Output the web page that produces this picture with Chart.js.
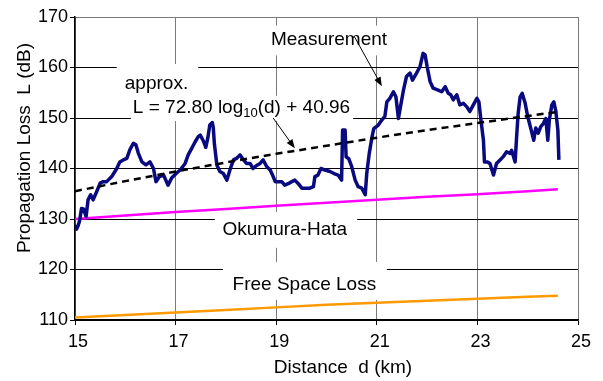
<!DOCTYPE html>
<html>
<head>
<meta charset="utf-8">
<script src="https://cdn.jsdelivr.net/npm/chart.js@4.4.1/dist/chart.umd.min.js"></script>
<style>
  html, body { margin: 0; padding: 0; background: #fff; }
  #wrap { width: 603px; height: 381px; position: relative; }
</style>
</head>
<body>
<div id="wrap"><canvas id="lossChart"></canvas></div>
<script>
// Measured propagation loss along the route (km, dB)
const measDist = [15.00, 15.03, 15.06, 15.09, 15.13, 15.17, 15.22, 15.26, 15.31, 15.36, 15.43, 15.50, 15.56, 15.63,
    15.73, 15.83, 15.89, 15.96, 16.03, 16.09, 16.16, 16.21, 16.26, 16.33, 16.41, 16.49, 16.56, 16.61, 16.68, 16.76,
    16.85, 16.92, 17.01, 17.09, 17.19, 17.25, 17.32, 17.39, 17.45, 17.49, 17.55, 17.60, 17.64, 17.68, 17.73, 17.75,
    17.77, 17.82, 17.88, 17.95, 18.02, 18.08, 18.15, 18.21, 18.28, 18.35, 18.41, 18.48, 18.54, 18.61, 18.68, 18.74,
    18.81, 18.88, 18.94, 18.98, 19.04, 19.11, 19.17, 19.24, 19.31, 19.37, 19.44, 19.51, 19.61, 19.67, 19.74, 19.77,
    19.83, 19.89, 19.97, 20.07, 20.15, 20.23, 20.30, 20.32, 20.37, 20.39, 20.44, 20.50, 20.57, 20.63, 20.70, 20.77,
    20.80, 20.85, 20.90, 20.94, 21.03, 21.10, 21.16, 21.20, 21.26, 21.33, 21.38, 21.43, 21.47, 21.53, 21.59, 21.66,
    21.71, 21.79, 21.86, 21.92, 21.96, 22.00, 22.06, 22.12, 22.22, 22.29, 22.36, 22.42, 22.47, 22.52, 22.59, 22.65,
    22.72, 22.79, 22.85, 22.92, 22.99, 23.03, 23.07, 23.12, 23.14, 23.20, 23.25, 23.32, 23.38, 23.45, 23.51, 23.58,
    23.65, 23.68, 23.75, 23.78, 23.81, 23.85, 23.89, 23.95, 24.00, 24.07, 24.12, 24.16, 24.21, 24.26, 24.31, 24.36,
    24.40, 24.43, 24.48, 24.52, 24.56, 24.60, 24.62];
const measLoss = [128.8, 128.0, 128.6, 129.6, 132.1, 132.0, 130.5, 133.8, 134.8, 133.8, 135.4, 137.1, 137.4, 137.4,
    138.4, 140.0, 141.3, 141.7, 142.0, 143.7, 145.0, 144.7, 143.0, 141.3, 140.7, 141.3, 140.0, 137.4, 138.4, 138.7,
    136.7, 138.1, 139.0, 139.7, 141.0, 142.7, 144.0, 145.3, 146.3, 146.6, 145.5, 144.2, 146.0, 148.6, 149.1, 148.0,
    145.0, 140.7, 139.4, 139.0, 137.7, 139.7, 141.7, 142.0, 142.7, 141.7, 141.0, 141.0, 140.0, 140.6, 141.0, 141.7,
    140.4, 139.7, 138.4, 137.4, 137.4, 137.4, 136.7, 137.0, 137.4, 137.7, 137.0, 136.1, 136.1, 136.1, 136.4, 138.4,
    138.7, 140.0, 139.7, 139.4, 139.0, 138.7, 137.7, 147.6, 147.6, 142.3, 142.0, 140.4, 137.7, 136.4, 136.1, 134.8,
    139.0, 143.0, 146.0, 147.9, 148.6, 149.6, 150.3, 153.2, 153.9, 155.2, 154.2, 149.9, 152.2, 155.5, 158.2, 158.9,
    157.5, 158.9, 160.2, 162.8, 162.5, 160.2, 157.2, 155.9, 155.5, 155.2, 156.2, 154.9, 154.6, 153.6, 154.6, 152.6,
    152.9, 152.2, 151.3, 152.6, 153.9, 153.2, 149.6, 145.6, 141.3, 141.3, 141.0, 138.7, 141.0, 141.7, 142.3, 143.3,
    143.0, 143.6, 141.3, 146.3, 150.9, 154.2, 154.9, 152.9, 150.3, 147.6, 145.6, 148.0, 147.0, 148.3, 148.9, 149.9,
    145.6, 149.6, 152.6, 153.2, 151.3, 147.6, 141.7];

// Model curves, read at whole kilometres
const modelDist = [15, 16, 17, 18, 19, 20, 21, 22, 23, 24, 24.6];
const fitLoss = [135.5, 137.5, 139.4, 141.2, 142.9, 144.5, 146.1, 147.6, 149.0, 150.4, 151.2];
const hataLoss = [130.0, 130.7, 131.4, 132.0, 132.6, 133.2, 133.8, 134.4, 134.9, 135.5, 135.9];
const freeLoss = [110.5, 111.0, 111.5, 112.0, 112.5, 113.0, 113.4, 113.8, 114.2, 114.6, 114.8];

const xTicks = [15, 17, 19, 21, 23, 25];
const yTicks = [110, 120, 130, 140, 150, 160, 170];

const FONT = "'Liberation Sans', Arial, sans-serif";

const toPts = (xs, ys) => xs.map((x, i) => ({x: x, y: ys[i]}));

// Text boxes (white background hides grid lines), in data units
const notes = [
    {text: 'Measurement', x: 20.05, y: 165.5, align: 'center', box: [18.8, 21.35, 168.3, 162.4]},
    {text: 'approx.', x: 15.99, y: 156.8, align: 'left', box: [15.83, 17.45, 160.7, 154.4]},
    {text: 'L = 72.80 log|10|(d) + 40.96', x: 16.15, y: 152.0, align: 'left', box: [16.11, 20.53, 154.4, 149.4]},
    {text: 'Okumura-Hata', x: 19.17, y: 127.8, align: 'center', box: [17.78, 20.61, 131.4, 124.3]},
    {text: 'Free Space Loss', x: 19.56, y: 116.9, align: 'center', box: [17.94, 21.20, 121.5, 114.0]}
];
// Arrows: from -> to, in data units
const arrows = [
    {from: [20.55, 166.2], to: [21.10, 156.3]},
    {from: [18.94, 150.0], to: [19.37, 144.0]}
];

const notesPlugin = {
    id: 'notes',
    beforeDatasetsDraw(chart) {
        const {ctx, scales: {x, y}} = chart;
        ctx.save();
        notes.forEach(n => {
            const x0 = x.getPixelForValue(n.box[0]), x1 = x.getPixelForValue(n.box[1]);
            const y0 = y.getPixelForValue(n.box[2]), y1 = y.getPixelForValue(n.box[3]);
            ctx.fillStyle = '#fff';
            ctx.fillRect(x0, y0, x1 - x0, y1 - y0);
        });
        ctx.fillStyle = '#000';
        ctx.textBaseline = 'middle';
        notes.forEach(n => {
            const px = x.getPixelForValue(n.x), py = y.getPixelForValue(n.y);
            const parts = n.text.split('|');
            ctx.font = '19px ' + FONT;
            if (parts.length === 1) {
                ctx.textAlign = n.align;
                ctx.fillText(n.text, px, py);
                return;
            }
            // text with a subscript part
            ctx.textAlign = 'left';
            let cx = px;
            parts.forEach((p, i) => {
                ctx.font = (i === 1 ? '13px ' : '19px ') + FONT;
                ctx.fillText(p, cx, py + (i === 1 ? 6 : 0));
                cx += ctx.measureText(p).width;
            });
        });
        ctx.restore();
    },
    afterDatasetsDraw(chart) {
        const {ctx, scales: {x, y}} = chart;
        ctx.save();
        ctx.strokeStyle = '#000';
        ctx.fillStyle = '#000';
        ctx.lineWidth = 1;
        arrows.forEach(a => {
            const fx = x.getPixelForValue(a.from[0]), fy = y.getPixelForValue(a.from[1]);
            const tx = x.getPixelForValue(a.to[0]), ty = y.getPixelForValue(a.to[1]);
            const ang = Math.atan2(ty - fy, tx - fx);
            ctx.beginPath();
            ctx.moveTo(fx, fy);
            ctx.lineTo(tx - 6 * Math.cos(ang), ty - 6 * Math.sin(ang));
            ctx.stroke();
            ctx.beginPath();
            ctx.moveTo(tx, ty);
            ctx.lineTo(tx - 9 * Math.cos(ang) + 3.5 * Math.sin(ang), ty - 9 * Math.sin(ang) - 3.5 * Math.cos(ang));
            ctx.lineTo(tx - 9 * Math.cos(ang) - 3.5 * Math.sin(ang), ty - 9 * Math.sin(ang) + 3.5 * Math.cos(ang));
            ctx.closePath();
            ctx.fill();
        });
        ctx.restore();
    },
    afterDraw(chart) {
        const {ctx} = chart;
        ctx.save();
        ctx.fillStyle = '#000';
        ctx.font = '19px ' + FONT;
        ctx.textAlign = 'center';
        ctx.textBaseline = 'middle';
        ctx.fillText('Distance  d (km)', 343, 368);
        ctx.translate(25, 148);
        ctx.rotate(-Math.PI / 2);
        ctx.fillText('Propagation Loss  L (dB)', 0, 0);
        ctx.restore();
    }
};

const ctx = document.getElementById('lossChart').getContext('2d');
new Chart(ctx, {
    type: 'scatter',
    data: {
        datasets: [
            {
                label: 'approx.',
                data: toPts(modelDist, fitLoss),
                showLine: true,
                borderColor: '#000',
                borderWidth: 2.5,
                borderDash: [7, 5],
                pointRadius: 0
            },
            {
                label: 'Measurement',
                data: toPts(measDist, measLoss),
                showLine: true,
                borderColor: '#0a0a80',
                borderWidth: 3.5,
                borderJoinStyle: 'round',
                pointRadius: 0
            },
            {
                label: 'Okumura-Hata',
                data: toPts(modelDist, hataLoss),
                showLine: true,
                borderColor: '#ff00ff',
                borderWidth: 2.5,
                pointRadius: 0
            },
            {
                label: 'Free Space Loss',
                data: toPts(modelDist, freeLoss),
                showLine: true,
                borderColor: '#ff9900',
                borderWidth: 2.5,
                pointRadius: 0
            }
        ]
    },
    options: {
        responsive: true,
        maintainAspectRatio: false,
        animation: false,
        layout: {padding: {top: 17, right: 25, left: 0, bottom: 0}},
        plugins: {
            legend: {display: false},
            tooltip: {enabled: false}
        },
        scales: {
            x: {
                type: 'linear',
                min: 15,
                max: 25,
                afterFit: s => { s.height = 61; },
                afterBuildTicks: s => { s.ticks = xTicks.map(v => ({value: v})); },
                ticks: {color: '#000', font: {family: FONT, size: 18}, padding: 6, labelOffset: 3, maxRotation: 0},
                grid: {color: '#7a7a7a', tickColor: '#000', tickLength: 5, lineWidth: 1},
                border: {color: '#000', width: 1.5}
            },
            y: {
                min: 110,
                max: 170,
                afterFit: s => { s.width = 75; },
                afterBuildTicks: s => { s.ticks = yTicks.map(v => ({value: v})); },
                ticks: {color: '#000', font: {family: FONT, size: 18}, padding: 2},
                grid: {
                    color: c => (c.tick && c.tick.value === 170 ? '#7a7a7a' : '#000'),
                    tickColor: '#000',
                    tickLength: 5,
                    lineWidth: 1
                },
                border: {color: '#000', width: 1.5}
            }
        }
    },
    plugins: [notesPlugin]
});
</script>
</body>
</html>
